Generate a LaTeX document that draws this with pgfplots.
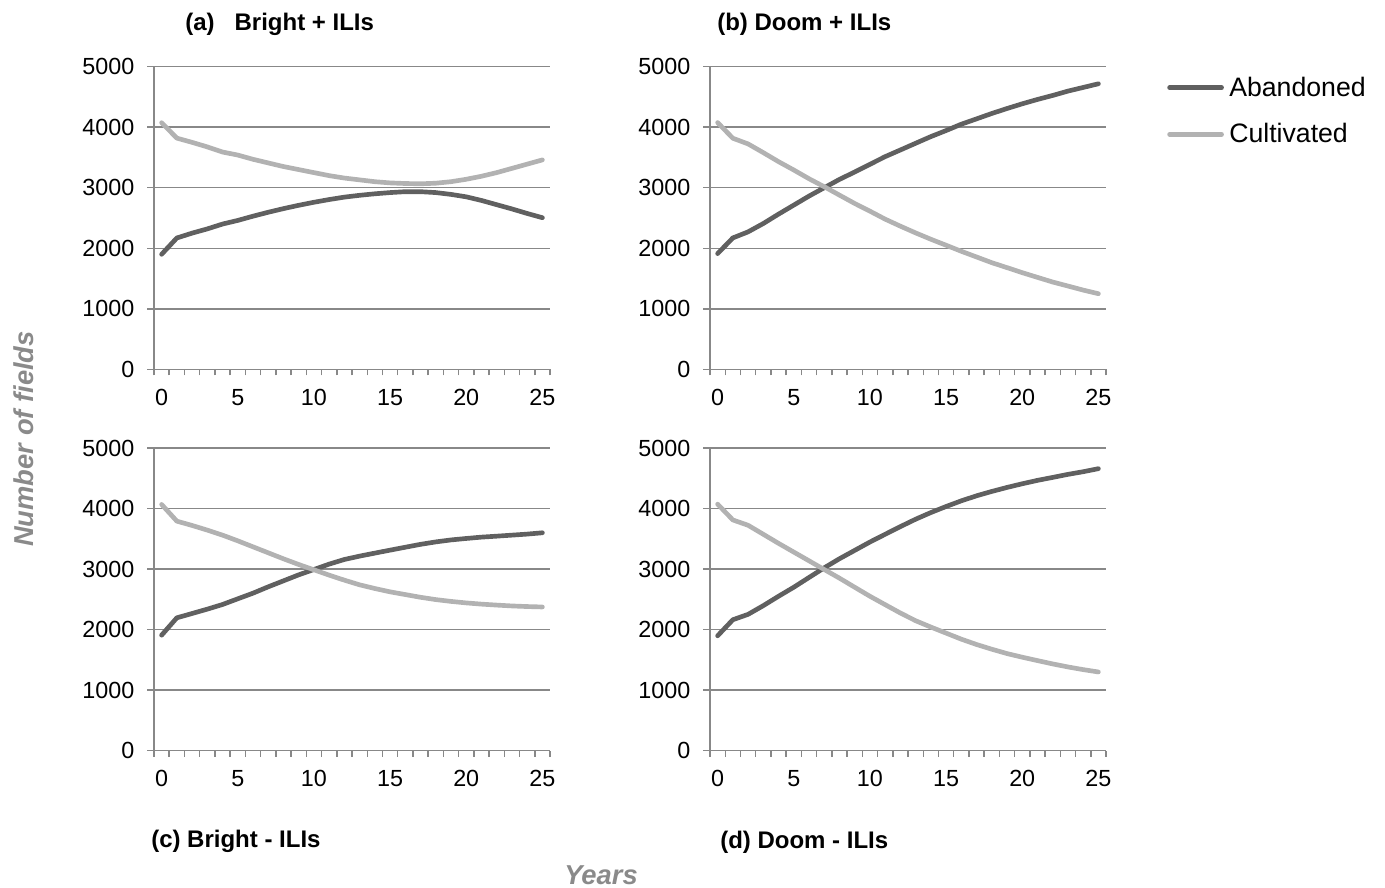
\documentclass[border=0pt]{standalone}
\usepackage{fontspec}
\setmainfont{Liberation Sans}
\usepackage{pgfplots}
\usepackage{pgfplotstable}
\pgfplotsset{compat=1.18}
\definecolor{aband}{HTML}{606060}
\definecolor{cultiv}{HTML}{B2B2B2}
\definecolor{gridc}{HTML}{888888}
\definecolor{labc}{HTML}{8A8A8A}

\pgfplotstableread{
x ab cu
0 1900 4075
1 2170 3820
2 2250 3750
3 2320 3675
4 2400 3590
5 2460 3540
6 2530 3470
7 2595 3410
8 2655 3350
9 2710 3300
10 2760 3250
11 2805 3200
12 2845 3160
13 2875 3130
14 2900 3100
15 2920 3080
16 2935 3070
17 2935 3065
18 2920 3075
19 2890 3100
20 2850 3140
21 2790 3190
22 2720 3250
23 2650 3320
24 2575 3390
25 2505 3460
}\tA
\pgfplotstableread{
x ab cu
0 1912 4077
1 2171 3818
2 2271 3724
3 2409 3580
4 2564 3431
5 2713 3293
6 2862 3149
7 3000 3017
8 3138 2878
9 3260 2740
10 3387 2613
11 3514 2481
12 3624 2365
13 3735 2254
14 3845 2149
15 3945 2050
16 4050 1950
17 4138 1856
18 4227 1762
19 4309 1680
20 4387 1597
21 4459 1519
22 4525 1442
23 4597 1376
24 4657 1309
25 4718 1249
}\tB
\pgfplotstableread{
x ab cu
0 1909 4069
1 2196 3793
2 2267 3722
3 2339 3645
4 2416 3562
5 2510 3468
6 2603 3369
7 2708 3270
8 2807 3171
9 2906 3077
10 2994 2989
11 3083 2901
12 3160 2818
13 3215 2741
14 3265 2680
15 3314 2625
16 3362 2580
17 3410 2535
18 3450 2497
19 3483 2467
20 3507 2442
21 3529 2422
22 3545 2406
23 3562 2392
24 3579 2382
25 3601 2375
}\tC
\pgfplotstableread{
x ab cu
0 1899 4074
1 2164 3813
2 2253 3725
3 2397 3576
4 2552 3426
5 2701 3282
6 2862 3138
7 3022 2994
8 3172 2851
9 3310 2701
10 3448 2552
11 3576 2413
12 3703 2275
13 3825 2148
14 3935 2043
15 4035 1943
16 4129 1843
17 4212 1755
18 4284 1677
19 4350 1605
20 4411 1545
21 4467 1489
22 4516 1434
23 4566 1384
24 4610 1340
25 4660 1301
}\tD

\pgfplotsset{panel/.style={
  scale only axis, width=297pt, height=226.95pt,
  xmin=-0.5, xmax=25.5, ymin=0, ymax=5000,
  axis x line*=bottom, axis y line*=left,
  axis line style={gridc, line width=1.1pt, -},
  xtick={0,5,...,25}, minor xtick={-0.5,0.5,...,25.5},
  ytick={0,1000,...,5000},
  tick align=outside,
  major tick length=5.25pt, minor tick length=4.5pt,
  every tick/.append style={gridc, line width=1.1pt},
  major x tick style={draw=none},
  ymajorgrids, major grid style={gridc, line width=1.1pt},
  tick label style={font=\fontsize{17.5}{20}\selectfont},
  yticklabel style={xshift=-6pt},
  xticklabel style={yshift=-6pt},
  /pgf/number format/assume math mode=true,
  /pgf/number format/1000 sep={},
  scaled y ticks=false,
  clip=false,
  every axis plot/.append style={line width=3.5pt, line join=round, line cap=round},
}}

\begin{document}
\begin{tikzpicture}
\useasboundingbox (0,0) rectangle (1038.75pt,-666pt);
\begin{axis}[panel, at={(115.5pt,-276.975pt)}, anchor=south west]
\addplot[aband] table[x=x,y=ab]{\tA};
\addplot[cultiv] table[x=x,y=cu]{\tA};
\end{axis}
\begin{axis}[panel, at={(532.5pt,-276.975pt)}, anchor=south west,
  legend style={at={(1.154,0.8536)}, anchor=west, draw=none, fill=none, inner sep=0pt,
    font=\fontsize{20}{24}\selectfont, row sep=15pt, column sep=2pt},
  legend cell align=left,
  legend image code/.code={\draw[#1, line width=3.5pt, line cap=round] (0pt,0pt) -- (39pt,0pt);}]
\addplot[aband] table[x=x,y=ab]{\tB};
\addlegendentry{Abandoned}
\addplot[cultiv] table[x=x,y=cu]{\tB};
\addlegendentry{Cultivated}
\end{axis}
\begin{axis}[panel, at={(115.5pt,-563.025pt)}, anchor=south west]
\addplot[aband] table[x=x,y=ab]{\tC};
\addplot[cultiv] table[x=x,y=cu]{\tC};
\end{axis}
\begin{axis}[panel, at={(532.5pt,-563.025pt)}, anchor=south west]
\addplot[aband] table[x=x,y=ab]{\tD};
\addplot[cultiv] table[x=x,y=cu]{\tD};
\end{axis}
\node[anchor=base west, inner sep=0pt, font=\fontsize{18}{22}\selectfont\bfseries] at (138.75pt,-23.25pt) {(a)\ \ \ Bright + ILIs};
\node[anchor=base west, inner sep=0pt, font=\fontsize{18}{22}\selectfont\bfseries] at (537.75pt,-23.25pt) {(b) Doom + ILIs};
\node[anchor=base west, inner sep=0pt, font=\fontsize{18}{22}\selectfont\bfseries] at (113.25pt,-635.25pt) {(c) Bright - ILIs};
\node[anchor=base west, inner sep=0pt, font=\fontsize{18}{22}\selectfont\bfseries] at (540pt,-636pt) {(d) Doom - ILIs};
\node[anchor=base, inner sep=0pt, text=labc, font=\fontsize{20.5}{24}\selectfont\bfseries\itshape] at (450.75pt,-663pt) {Years};
\node[anchor=base, rotate=90, inner sep=0pt, text=labc, font=\fontsize{20.5}{24}\selectfont\bfseries\itshape] at (24.75pt,-329.25pt) {Number of fields};
\end{tikzpicture}
\end{document}
